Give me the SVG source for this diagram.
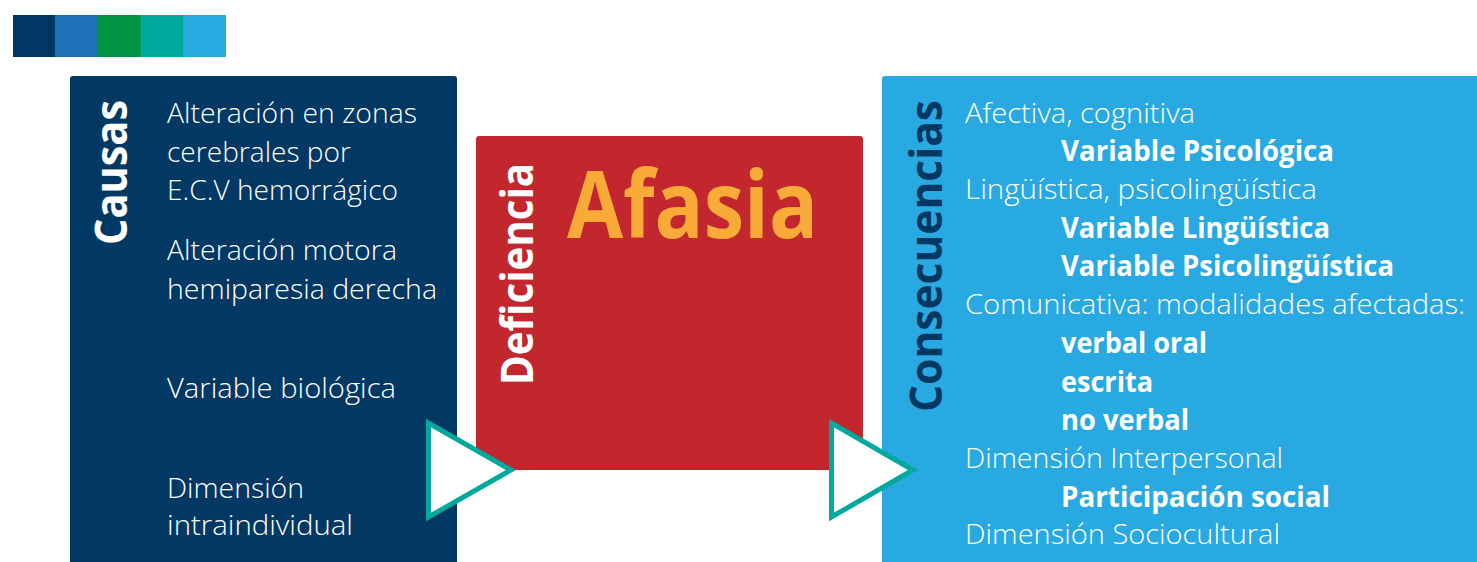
<svg xmlns="http://www.w3.org/2000/svg" width="1477" height="562" viewBox="0 0 1477 562">
<style>
.lt{font-family:"Open Sans","Liberation Sans",sans-serif;font-weight:300;font-size:28px;fill:#ffffff}
.bd{font-family:"Open Sans","Liberation Sans",sans-serif;font-weight:700;font-size:28px;fill:#ffffff}
.vt{font-family:"Open Sans","Liberation Sans",sans-serif;font-weight:700;font-size:44px}
.tri{fill:#ffffff;stroke:#00a99d;stroke-width:5;stroke-linejoin:miter}
</style>
<rect width="1477" height="562" fill="#ffffff"/>
<g id="palette">
<rect x="13" y="15" width="42" height="42" fill="#003764"/>
<rect x="55" y="15" width="43" height="42" fill="#1f71b8"/>
<rect x="98" y="15" width="43" height="42" fill="#009444"/>
<rect x="141" y="15" width="42" height="42" fill="#00a99d"/>
<rect x="183" y="15" width="43" height="42" fill="#29abe2"/>
</g>
<g id="causas">
<rect x="70" y="76" width="387" height="496" rx="3" fill="#023864"/>
<text class="vt" fill="#ffffff" transform="translate(127,245) rotate(-90)" textLength="145" lengthAdjust="spacingAndGlyphs">Causas</text>
<text class="lt" x="167" y="123" textLength="250" lengthAdjust="spacingAndGlyphs">Alteración en zonas</text>
<text class="lt" x="167" y="162" textLength="184" lengthAdjust="spacingAndGlyphs">cerebrales por</text>
<text class="lt" x="167" y="200" textLength="231" lengthAdjust="spacingAndGlyphs">E.C.V hemorrágico</text>
<text class="lt" x="167" y="260" textLength="230" lengthAdjust="spacingAndGlyphs">Alteración motora</text>
<text class="lt" x="167" y="299" textLength="270" lengthAdjust="spacingAndGlyphs">hemiparesia derecha</text>
<text class="lt" x="167" y="398" textLength="229" lengthAdjust="spacingAndGlyphs">Variable biológica</text>
<text class="lt" x="167" y="498" textLength="137" lengthAdjust="spacingAndGlyphs">Dimensión</text>
<text class="lt" x="167" y="535" textLength="186" lengthAdjust="spacingAndGlyphs">intraindividual</text>
</g>
<g id="deficiencia">
<rect x="476" y="136" width="387" height="334" rx="3" fill="#c1272d"/>
<text class="vt" fill="#ffffff" transform="translate(533,385) rotate(-90)" textLength="222" lengthAdjust="spacingAndGlyphs">Deficiencia</text>
<text x="567" y="238" font-family="Open Sans, Liberation Sans, sans-serif" font-weight="700" font-size="94" fill="#f9aa38" textLength="251" lengthAdjust="spacingAndGlyphs">Afasia</text>
</g>
<g id="consecuencias">
<rect x="882" y="76" width="605" height="496" rx="3" fill="#29a9e1"/>
<text class="vt" fill="#023864" transform="translate(942,412) rotate(-90)" textLength="312" lengthAdjust="spacingAndGlyphs">Consecuencias</text>
<text class="lt" x="965" y="123" textLength="230" lengthAdjust="spacingAndGlyphs">Afectiva, cognitiva</text>
<text class="bd" x="1061" y="161" textLength="273" lengthAdjust="spacingAndGlyphs">Variable Psicológica</text>
<text class="lt" x="965" y="199" textLength="352" lengthAdjust="spacingAndGlyphs">Lingüística, psicolingüística</text>
<text class="bd" x="1061" y="238" textLength="269" lengthAdjust="spacingAndGlyphs">Variable Lingüística</text>
<text class="bd" x="1061" y="276" textLength="333" lengthAdjust="spacingAndGlyphs">Variable Psicolingüística</text>
<text class="lt" x="965" y="314" textLength="500" lengthAdjust="spacingAndGlyphs">Comunicativa: modalidades afectadas:</text>
<text class="bd" x="1061" y="353" textLength="146" lengthAdjust="spacingAndGlyphs">verbal oral</text>
<text class="bd" x="1061" y="392" textLength="92" lengthAdjust="spacingAndGlyphs">escrita</text>
<text class="bd" x="1061" y="430" textLength="128" lengthAdjust="spacingAndGlyphs">no verbal</text>
<text class="lt" x="965" y="468" textLength="318" lengthAdjust="spacingAndGlyphs">Dimensión Interpersonal</text>
<text class="bd" x="1061" y="507" textLength="269" lengthAdjust="spacingAndGlyphs">Participación social</text>
<text class="lt" x="965" y="544" textLength="315" lengthAdjust="spacingAndGlyphs">Dimensión Sociocultural</text>
</g>
<g id="connectors">
<polygon class="tri" points="428.5,423 428.5,517 511,470"/>
<polygon class="tri" points="831.5,423 831.5,517 913,470"/>
</g>
</svg>
